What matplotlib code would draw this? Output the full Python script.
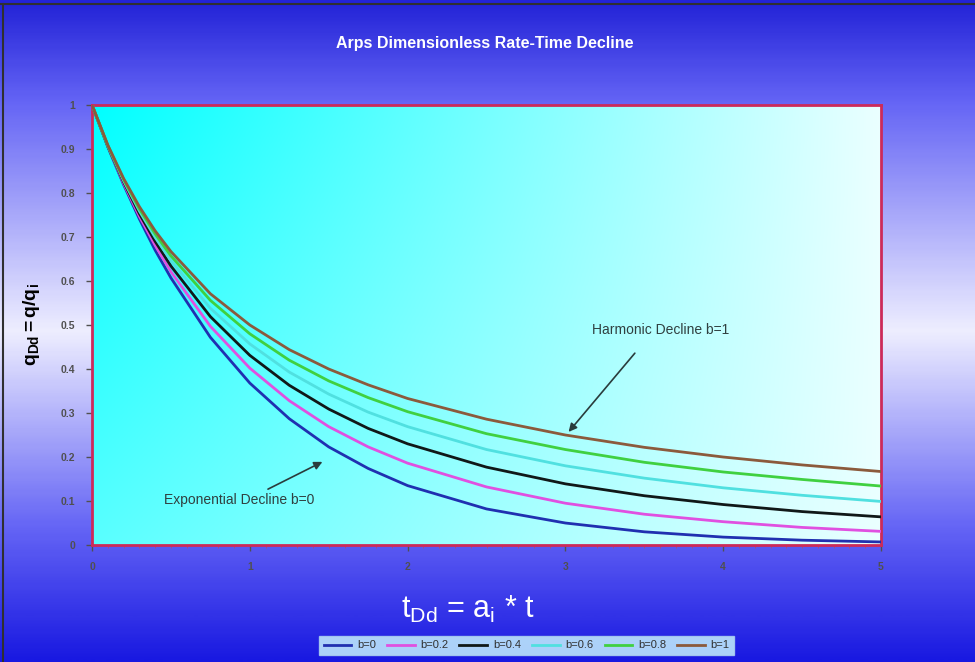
import numpy as np
import matplotlib.pyplot as plt
from matplotlib.colors import LinearSegmentedColormap
from matplotlib.lines import Line2D

plt.rcParams['font.family'] = ['Liberation Sans', 'DejaVu Sans']
plt.rcParams['mathtext.fontset'] = 'custom'
plt.rcParams['mathtext.rm'] = 'Liberation Sans'
plt.rcParams['mathtext.it'] = 'Liberation Sans'
plt.rcParams['mathtext.bf'] = 'Liberation Sans:bold'

# values
t_dd = [0, 0.1, 0.2, 0.3, 0.4, 0.5, 0.75, 1, 1.25, 1.5, 1.75, 2, 2.5, 3, 3.5, 4, 4.5, 5]
q_b0 = [1, 0.905, 0.819, 0.741, 0.670, 0.607, 0.472, 0.368, 0.287, 0.223, 0.174, 0.135,
        0.082, 0.050, 0.030, 0.018, 0.011, 0.007]
q_b02 = [1, 0.906, 0.822, 0.747, 0.681, 0.621, 0.497, 0.402, 0.328, 0.269, 0.223, 0.186,
         0.132, 0.095, 0.070, 0.053, 0.040, 0.031]
q_b04 = [1, 0.906, 0.825, 0.753, 0.690, 0.634, 0.519, 0.431, 0.363, 0.309, 0.265, 0.230,
         0.177, 0.139, 0.112, 0.092, 0.076, 0.064]
q_b06 = [1, 0.907, 0.828, 0.759, 0.699, 0.646, 0.538, 0.457, 0.393, 0.343, 0.302, 0.269,
         0.217, 0.180, 0.152, 0.130, 0.113, 0.099]
q_b08 = [1, 0.908, 0.831, 0.764, 0.707, 0.657, 0.556, 0.480, 0.420, 0.373, 0.335, 0.303,
         0.253, 0.217, 0.188, 0.166, 0.149, 0.134]
q_b1 = [1, 0.909, 0.833, 0.769, 0.714, 0.667, 0.571, 0.500, 0.444, 0.400, 0.364, 0.333,
        0.286, 0.250, 0.222, 0.200, 0.182, 0.167]

series = [q_b0, q_b02, q_b04, q_b06, q_b08, q_b1]
labels = ['b=0', 'b=0.2', 'b=0.4', 'b=0.6', 'b=0.8', 'b=1']
colors = ['#2030b0', '#e050e0', '#101818', '#50e0e0', '#40d040', '#8b5a3c']

fig = plt.figure(figsize=(9.75, 6.62), dpi=100)

# blue-white-blue background
bg = fig.add_axes([0, 0, 1, 1], zorder=-5)
bg_cmap = LinearSegmentedColormap.from_list('bg', [
    (0.0, (35/255, 35/255, 215/255)),
    (0.15, (100/255, 100/255, 245/255)),
    (0.5, (238/255, 238/255, 255/255)),
    (0.8, (100/255, 100/255, 245/255)),
    (1.0, (25/255, 25/255, 225/255))])
bg.imshow(np.linspace(0, 1, 300).reshape(-1, 1), aspect='auto', cmap=bg_cmap,
          extent=[0, 1, 0, 1])
bg.set_axis_off()
fig.lines.append(Line2D([0, 1], [0.994, 0.994], transform=fig.transFigure,
                        color='#303030', lw=1.5))
fig.lines.append(Line2D([0.003, 0.003], [0, 0.994], transform=fig.transFigure,
                        color='#303030', lw=1.5))

ax = fig.add_axes([0.0944, 0.1767, 0.8092, 0.6647])

# cyan to white plot area
xx, yy = np.meshgrid(np.linspace(0, 1, 200), np.linspace(1, 0, 200))
w = np.clip(0.92 * xx + 0.35 * (1 - yy) * (1 - xx), 0, 0.93)
cyan = np.array([0, 1, 1])
white = np.array([1, 1, 1])
img = cyan[None, None, :] * (1 - w[..., None]) + white[None, None, :] * w[..., None]
ax.imshow(img, extent=[0, 5, 0, 1], aspect='auto', zorder=0)

for q, lab, c in zip(series, labels, colors):
    ax.plot(t_dd, q, color=c, lw=2, label=lab, zorder=3)

ax.set_xlim(0, 5)
ax.set_ylim(0, 1)
ax.set_xticks(range(6))
ax.set_yticks(np.arange(0, 1.01, 0.1))
ax.set_yticklabels(['0', '0.1', '0.2', '0.3', '0.4', '0.5', '0.6', '0.7', '0.8', '0.9', '1'])
ax.set_xticks(np.arange(0, 5.01, 0.1), minor=True)
ax.tick_params(axis='both', which='major', labelsize=7.5, colors='#505050', length=4,
               width=1, pad=8)
ax.tick_params(axis='x', which='minor', length=2, color='#a05080')
for lab in ax.get_xticklabels() + ax.get_yticklabels():
    lab.set_fontweight('bold')
for s in ax.spines.values():
    s.set_color('#cc2a5a')
    s.set_linewidth(2)

fig.text(0.497, 0.935, 'Arps Dimensionless Rate-Time Decline', color='white',
         fontsize=11.5, fontweight='bold', ha='center', va='center')
fig.text(0.032, 0.51, r'$\mathbf{q_{Dd}{=}q/q_i}$', rotation=90, fontsize=14,
         ha='center', va='center', color='black')
fig.text(0.48, 0.08, r'$\mathrm{t_{Dd}}$ = a$_\mathrm{i}$ * t', color='white',
         fontsize=22, ha='center', va='center')

# annotations
ax.annotate('', xy=(3.02, 0.257), xytext=(3.44, 0.436),
            arrowprops=dict(arrowstyle='-|>', color='#2a3c3c', lw=1.2,
                            mutation_scale=12, shrinkA=0, shrinkB=0))
ax.text(3.17, 0.489, 'Harmonic Decline b=1', fontsize=10, color='#304040',
        ha='left', va='center')
ax.annotate('', xy=(1.46, 0.189), xytext=(1.115, 0.127),
            arrowprops=dict(arrowstyle='-|>', color='#2a3c3c', lw=1.2,
                            mutation_scale=12, shrinkA=0, shrinkB=0))
ax.text(0.93, 0.102, 'Exponential Decline b=0', fontsize=10, color='#304040',
        ha='center', va='center')

leg = fig.legend(loc='center', bbox_to_anchor=(0.54, 0.025), ncol=6, fontsize=8,
                 frameon=True, handlelength=2.5, columnspacing=1.0, handletextpad=0.5,
                 borderpad=0.4, fancybox=False)
leg.get_frame().set_facecolor('#d0ffff')
leg.get_frame().set_edgecolor('#b0d8f0')
for txt in leg.get_texts():
    txt.set_color('#303030')

fig.savefig('out.png', dpi=100)
